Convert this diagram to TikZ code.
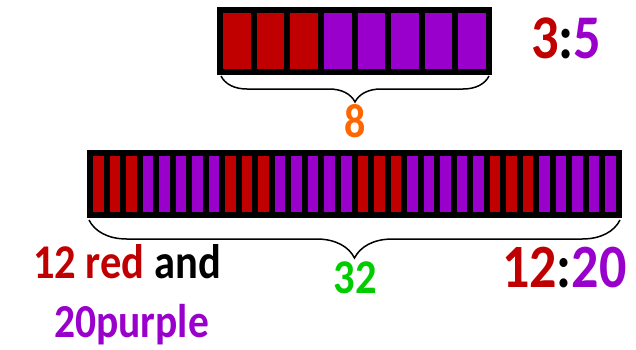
\documentclass[tikz,border=0pt]{standalone}
\usepackage{fontspec}
\setmainfont{Carlito}
\usetikzlibrary{decorations.pathreplacing}
\definecolor{barred}{HTML}{C00000}
\definecolor{barpurple}{HTML}{9900CC}
\definecolor{numorange}{HTML}{FF6600}
\definecolor{numgreen}{HTML}{00CC00}
\newcommand\tall[1]{\scalebox{1}[1.14]{#1}}
\begin{document}
\begin{tikzpicture}[x=1pt,y=-1pt,line join=miter,font=\bfseries,
    cell/.style={draw=black,line width=6pt},
    brc/.style={decorate,decoration={brace,mirror,amplitude=#1},line width=1.5pt},
    lbl/.style={inner sep=0pt}]
  \useasboundingbox (0,0) rectangle (636,349);
  % small bar: 3 red, 5 purple
  \foreach \i in {0,...,7}{
    \ifnum\i<3 \def\c{barred}\else\def\c{barpurple}\fi
    \draw[cell,fill=\c] ({220+\i*33.625},10) rectangle ++(33.625,62);
  }
  % long bar: the same pattern four times
  \foreach \i in {0,...,31}{
    \pgfmathtruncatemacro\k{mod(\i,8)}
    \ifnum\k<3 \def\c{barred}\else\def\c{barpurple}\fi
    \draw[cell,fill=\c] ({90+\i*16.53125},153) rectangle ++(16.53125,62);
  }
  \draw[brc=26pt] (221,76) -- (489,76);
  \draw[brc=38pt] (89,220) -- (620,220);
  \node[lbl,anchor=base west,font=\bfseries\fontsize{54.5}{60}\selectfont] (small) at (531,58)
    {\tall{\textcolor{barred}{3}:\textcolor{barpurple}{5}}};
  \node[lbl,anchor=base,text=numorange,font=\bfseries\fontsize{42}{48}\selectfont] (eight) at (355,137) {\tall{8}};
  \node[lbl,anchor=base,text=numgreen,font=\bfseries\fontsize{42.5}{49}\selectfont] (total) at (355,293) {\tall{32}};
  \node[lbl,anchor=base west,font=\bfseries\fontsize{54}{60}\selectfont] (big) at (502,287)
    {\tall{\textcolor{barred}{12}:\textcolor{barpurple}{20}}};
  \node[lbl,anchor=base west,font=\bfseries\fontsize{42.5}{49}\selectfont] (reds) at (33,278)
    {\tall{\textcolor{barred}{12 red} and}};
  \node[lbl,anchor=base west,text=barpurple,font=\bfseries\fontsize{41.5}{48}\selectfont] (purples) at (54,337) {\tall{20purple}};
\end{tikzpicture}
\end{document}
